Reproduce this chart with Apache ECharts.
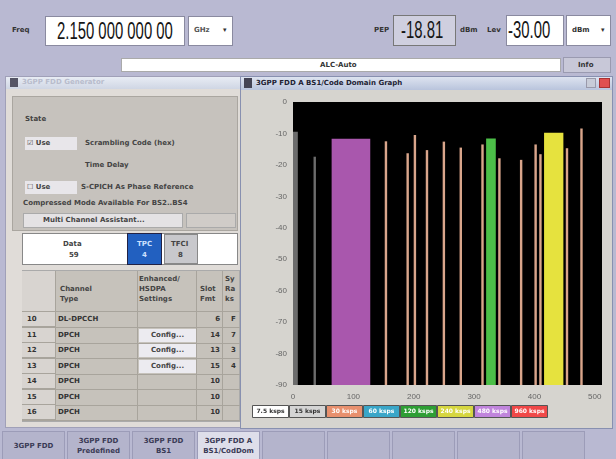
<!DOCTYPE html>
<html>
<head>
<meta charset="utf-8">
<script src="https://cdn.jsdelivr.net/npm/echarts@6/dist/echarts.min.js"></script>
<style>
html,body{margin:0;padding:0;width:616px;height:459px;overflow:hidden;background:#b9b9d2;font-family:"DejaVu Sans",sans-serif;}
.abs{position:absolute;box-sizing:border-box;}
.lbl{font-size:7px;font-weight:bold;color:#333;}
.big{font-family:"Liberation Sans",sans-serif;font-size:24px;color:#151515;transform:scaleX(0.62);transform-origin:0 0;white-space:nowrap;line-height:26px;}
.box{background:#fff;border:1px solid #8a8aa0;}
.tab{position:absolute;top:431px;height:28px;width:63px;background:#b4b4cc;border:1px solid #9c9cb8;border-bottom:none;font-size:7px;font-weight:bold;color:#3a3a55;text-align:center;line-height:10px;padding-top:4px;box-sizing:border-box;}
.t7{font-size:7px;font-weight:bold;color:#444;}
.row{position:absolute;left:22px;width:218px;height:15px;border-bottom:1px solid #a8a49c;font-size:7px;font-weight:bold;color:#333;}
.cfg{position:absolute;left:117px;top:1px;width:57px;height:13px;background:#ecebf0;color:#444;font-size:7px;text-align:center;line-height:13px;}
</style>
</head>
<body>
<!-- top bar -->
<div class="abs lbl" style="left:12px;top:26px;">Freq</div>
<div class="abs box" style="left:45px;top:16px;width:140px;height:30px;"></div>
<div class="abs big" style="left:57px;top:18px;">2.150 000 000 00</div>
<div class="abs box" style="left:188px;top:16px;width:45px;height:30px;"></div>
<div class="abs lbl" style="left:194px;top:26px;color:#555;">GHz</div>
<div class="abs lbl" style="left:223px;top:26px;">▾</div>
<div class="abs lbl" style="left:374px;top:26px;">PEP</div>
<div class="abs" style="left:393px;top:15px;width:63px;height:31px;background:#cfcfdf;border:1px solid #777;"></div>
<div class="abs big" style="left:401px;top:17px;">-18.81</div>
<div class="abs lbl" style="left:460px;top:26px;">dBm</div>
<div class="abs lbl" style="left:487px;top:26px;">Lev</div>
<div class="abs box" style="left:506px;top:15px;width:58px;height:31px;"></div>
<div class="abs big" style="left:508px;top:17px;">-30.00</div>
<div class="abs box" style="left:566px;top:15px;width:45px;height:31px;"></div>
<div class="abs lbl" style="left:572px;top:26px;">dBm</div>
<div class="abs lbl" style="left:601px;top:26px;">▾</div>
<div class="abs" style="left:121px;top:58px;width:440px;height:14px;background:#fff;border:1px solid #aaa;"></div>
<div class="abs lbl" style="left:320px;top:61px;">ALC-Auto</div>
<div class="abs" style="left:563px;top:57px;width:48px;height:16px;background:#c8c8d8;border:1px solid #9a9ab0;"></div>
<div class="abs lbl" style="left:578px;top:61px;">Info</div>

<!-- left window -->
<div class="abs" style="left:5px;top:76px;width:236px;height:352px;background:#e0dcd8;border:1px solid #a0a0b8;"></div>
<div class="abs" style="left:6px;top:77px;width:234px;height:12px;background:linear-gradient(#e8ecf4,#cfd6e4);"></div>
<div class="abs" style="left:10px;top:78px;width:8px;height:9px;background:#556;"></div>
<div class="abs" style="left:22px;top:78px;font-size:7px;font-weight:bold;color:#b8bccc;">3GPP FDD Generator</div>
<div class="abs" style="left:12px;top:96px;width:226px;height:135px;background:#c6c2bd;border:1px solid #aaa6a0;"></div>
<div class="abs t7" style="left:25px;top:115px;">State</div>
<div class="abs" style="left:25px;top:137px;width:52px;height:13px;background:#e8e6ea;"></div>
<div class="abs t7" style="left:27px;top:139px;">☑ Use</div>
<div class="abs t7" style="left:85px;top:139px;">Scrambling Code (hex)</div>
<div class="abs t7" style="left:85px;top:161px;">Time Delay</div>
<div class="abs" style="left:25px;top:181px;width:52px;height:13px;background:#e8e6ea;"></div>
<div class="abs t7" style="left:27px;top:183px;">☐ Use</div>
<div class="abs t7" style="left:81px;top:183px;">S-CPICH As Phase Reference</div>
<div class="abs t7" style="left:23px;top:199px;">Compressed Mode Available For BS2..BS4</div>
<div class="abs" style="left:23px;top:213px;width:160px;height:15px;background:#e4e2e4;border:1px solid #aaa;"></div>
<div class="abs t7" style="left:43px;top:216px;">Multi Channel Assistant...</div>
<div class="abs" style="left:186px;top:213px;width:50px;height:15px;background:#d0ccc8;border:1px solid #aaa;"></div>
<div class="abs" style="left:22px;top:233px;width:216px;height:32px;background:#fff;border:1px solid #888;"></div>
<div class="abs t7" style="left:63px;top:240px;">Data</div>
<div class="abs t7" style="left:69px;top:251px;">59</div>
<div class="abs" style="left:127px;top:233px;width:35px;height:32px;background:#2260c0;border:1px solid #224;"></div>
<div class="abs t7" style="left:137px;top:240px;color:#cfe0ff;">TPC</div>
<div class="abs t7" style="left:142px;top:251px;color:#cfe0ff;">4</div>
<div class="abs" style="left:164px;top:234px;width:34px;height:30px;background:#c8c8cc;border:1px solid #888;"></div>
<div class="abs t7" style="left:171px;top:240px;">TFCI</div>
<div class="abs t7" style="left:178px;top:251px;">8</div>
<!-- table -->
<div class="abs" style="left:22px;top:270px;width:218px;height:152px;background:#c6c2bb;border:1px solid #aaa;"></div>
<div class="abs" style="left:22px;top:271px;width:33px;height:41px;background:#d8d4d0;"></div>
<div class="abs" style="left:55px;top:271px;width:1px;height:150px;background:#a8a49c;"></div>
<div class="abs" style="left:137px;top:271px;width:1px;height:150px;background:#a8a49c;"></div>
<div class="abs" style="left:196px;top:271px;width:1px;height:150px;background:#a8a49c;"></div>
<div class="abs" style="left:222px;top:271px;width:1px;height:150px;background:#a8a49c;"></div>
<div class="abs t7" style="left:60px;top:284px;line-height:10px;">Channel<br>Type</div>
<div class="abs t7" style="left:139px;top:274px;line-height:10px;">Enhanced/<br>HSDPA<br>Settings</div>
<div class="abs t7" style="left:200px;top:284px;line-height:10px;">Slot<br>Fmt</div>
<div class="abs t7" style="left:225px;top:274px;line-height:10px;">Sy<br>Ra<br>ks</div>
<div class="abs" style="left:22px;top:311px;width:218px;height:1px;background:#a8a49c;"></div>
<div id="rows"></div>

<!-- right window -->
<div class="abs" style="left:240px;top:76px;width:373px;height:353px;background:#d6d4cf;border:1px solid #8890b0;"></div>
<div class="abs" style="left:241px;top:77px;width:371px;height:13px;background:linear-gradient(#dde3f0,#b9c4dc);"></div>
<div class="abs" style="left:244px;top:78px;width:8px;height:10px;background:#445;"></div>
<div class="abs" style="left:256px;top:79px;font-size:7px;font-weight:bold;color:#223;">3GPP FDD A BS1/Code Domain Graph</div>
<div class="abs" style="left:586px;top:78px;width:10px;height:10px;background:#c8ccd8;border:1px solid #99a;"></div>
<div class="abs" style="left:599px;top:78px;width:11px;height:10px;background:#e05050;border:1px solid #a33;"></div>
<div id="chart" class="abs" style="left:241px;top:91px;width:371px;height:337px;"></div>

<!-- bottom tabs -->
<div id="tabs"></div>

<script>
// ---- data ----
const legendLabels = ['7.5 ksps','15 ksps','30 ksps','60 ksps','120 ksps','240 ksps','480 ksps','960 ksps'];
const xTicks = [0,100,200,300,400,500];
const yTicks = [0,-10,-20,-30,-40,-50,-60,-70,-80,-90];
// code-domain channels: start code, end code, power (dB), symbol-rate class (index into legendLabels)
const chStart = [0, 34, 64, 152, 188, 200, 220, 248, 276, 312, 320, 340, 376, 400, 408, 416, 452, 476];
const chEnd   = [8, 38, 128, 156, 192, 204, 224, 252, 280, 316, 336, 344, 380, 404, 412, 448, 456, 480];
const chPower = [-9.5, -17.4, -11.7, -12.5, -16.3, -10.5, -15.3, -12.6, -14.5, -13.5, -11.6, -17.9, -18.4, -13.5, -16.6, -9.8, -14.7, -8.4];
const chRate  = [1, 1, 6, 2, 2, 2, 2, 2, 2, 2, 4, 2, 2, 2, 2, 5, 2, 2];
// table rows
const rowNum = ['10','11','12','13','14','15','16'];
const rowType = ['DL-DPCCH','DPCH','DPCH','DPCH','DPCH','DPCH','DPCH'];
const rowCfg = [false,true,true,true,false,false,false];
const rowSlot = ['6','14','13','15','10','10','10'];
const rowRate = ['F','7','3','4','','',''];
const tabLabels = ['3GPP FDD','3GPP FDD<br>Predefined','3GPP FDD<br>BS1','3GPP FDD A<br>BS1/CodDom','','','','',''];

// ---- ui rows ----
let rh = '';
rowNum.forEach((n,i)=>{
  const top = 312 + i*15.5;
  rh += `<div class="row" style="top:${top}px;">
    <div class="abs" style="left:0;top:0;width:33px;height:15px;background:#d8d4d0;border-bottom:1px solid #a8a49c"></div>
    <div class="abs" style="left:5px;top:3px;">${n}</div>
    <div class="abs" style="left:36px;top:3px;">${rowType[i]}</div>
    ${rowCfg[i]?'<div class="cfg">Config...</div>':''}
    <div class="abs" style="left:174px;top:3px;width:24px;text-align:right;">${rowSlot[i]}</div>
    <div class="abs" style="left:209px;top:3px;">${rowRate[i]}</div>
  </div>`;
});
document.getElementById('rows').innerHTML = rh;
let th = '';
tabLabels.forEach((t,i)=>{
  const sel = i===3;
  const oneLine = t.indexOf('<br>')<0;
  th += `<div class="tab" style="left:${2+i*65}px;${sel?'background:#dedeea;':''}${oneLine?'padding-top:9px;':''}">${t}</div>`;
});
document.getElementById('tabs').innerHTML = th;

// ---- chart ----
const barColors = ['#9a9a9a','#6c6c6c','#d9a58b','#40a8c8','#4cbf48','#e6e23e','#a957ad','#e84848'];
const legendFill = ['#ffffff','#d4d4d4','#e8906e','#3aa6c8','#2e9e34','#d6d640','#c084dc','#f04848'];
const legendText = ['#333','#333','#fff','#fff','#fff','#fff','#fff','#fff'];
const data = chStart.map((s,i)=>[s, chEnd[i], chPower[i], chRate[i]]);

const chart = echarts.init(document.getElementById('chart'), null, {renderer:'canvas'});
const legendGraphics = legendLabels.map((l,i)=>({
  type:'group', left: 11 + i*37, top: 314,
  children:[
    {type:'rect', shape:{x:0,y:0,width:36,height:12}, style:{fill:legendFill[i], stroke:'#555', lineWidth:1}},
    {type:'text', style:{x:18,y:6,text:l,fill:legendText[i],font:'bold 6px "DejaVu Sans"',align:'center',verticalAlign:'middle'}}
  ]
}));
chart.setOption({
  backgroundColor:'#d6d4cf',
  animation:false,
  grid:{left:52, top:11, width:309, height:283, show:true, backgroundColor:'#000', borderWidth:0},
  xAxis:{type:'value', min:0, max:512, interval:100,
    axisLine:{show:false}, axisTick:{show:false}, splitLine:{show:false},
    axisLabel:{color:'#666', fontSize:8, margin:8, formatter:v=>xTicks.includes(v)?String(v):''}},
  yAxis:{type:'value', min:-90, max:0, interval:10,
    axisLine:{show:false}, axisTick:{show:false}, splitLine:{show:false},
    axisLabel:{color:'#666', fontSize:8, margin:6, formatter:v=>yTicks.includes(v)?String(v):''}},
  series:[{
    type:'custom',
    data:data,
    encode:{x:[0,1], y:2},
    renderItem:(params, api)=>{
      const p0 = api.coord([api.value(0), api.value(2)]);
      const p1 = api.coord([api.value(1), -90]);
      const c = barColors[api.value(3)];
      return {type:'rect', shape:{x:p0[0], y:p0[1], width:Math.max(1.5,p1[0]-p0[0]), height:p1[1]-p0[1]},
        style:{fill:c}};
    }
  }],
  graphic: legendGraphics
});
</script>
</body>
</html>
